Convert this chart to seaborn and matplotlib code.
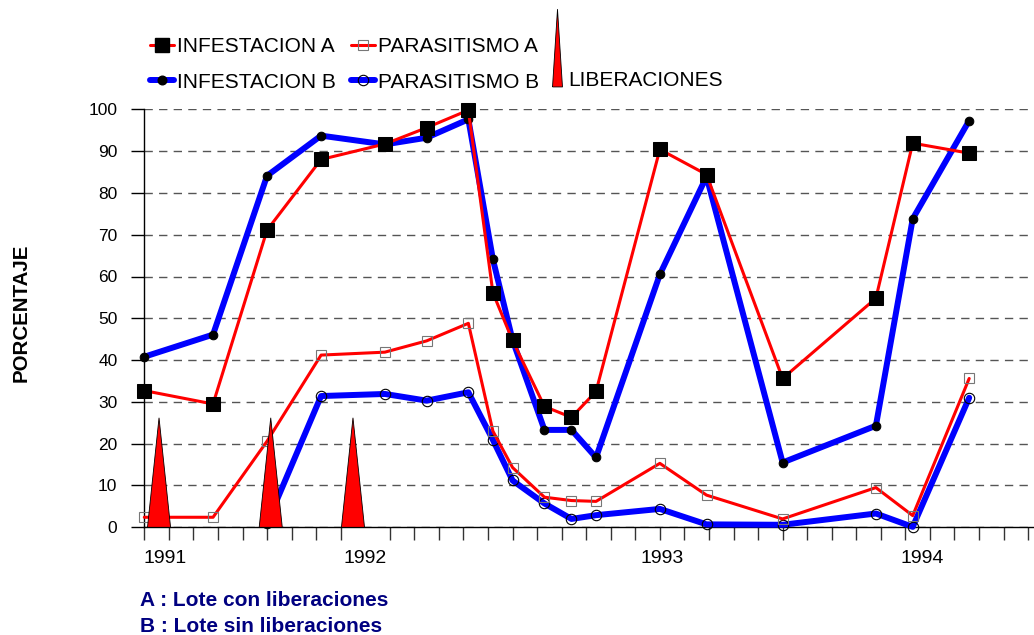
import numpy as np
import pandas as pd
import matplotlib
matplotlib.use('Agg')
import matplotlib.pyplot as plt
import seaborn as sns
from matplotlib.lines import Line2D

# Fechas de muestreo (meses desde enero 1991)
meses = [0, 2.8, 5.0, 7.2, 9.8, 11.5, 13.2, 14.2, 15.0, 16.3, 17.4, 18.4,
         21.0, 22.9, 26.0, 29.8, 31.3, 33.6]

# Lote A (con liberaciones) y lote B (sin liberaciones), en porcentaje
infestacion_a = [32.7, 29.5, 71.1, 88.0, 91.7, 95.6, 99.8, 56.1, 44.7, 28.9,
                 26.3, 32.5, 90.4, 84.4, 35.6, 54.8, 91.9, 89.5]
infestacion_b = [40.8, 46.1, 84.1, 93.7, 91.6, 93.2, 97.6, 64.1, 44.8, 23.3,
                 23.3, 16.7, 60.5, 83.9, 15.5, 24.3, 73.8, 97.3]
parasitismo_a = [2.4, 2.4, 20.6, 41.2, 41.9, 44.6, 48.8, 23.0, 14.3, 7.2,
                 6.4, 6.2, 15.3, 7.7, 2.0, 9.5, 2.8, 35.6]
# el parasitismo B empieza en el tercer muestreo
meses_par_b = meses[2:]
parasitismo_b = [1.0, 31.4, 31.9, 30.3, 32.3, 20.9, 11.2, 5.7, 2.0, 2.9,
                 4.4, 0.7, 0.6, 3.3, 0.1, 31.0]

# Liberaciones de parasitoides
liberaciones_mes = [0.6, 5.15, 8.5]
liberaciones_alto = [26.2, 26.2, 26.2]

anios = ['1991', '1992', '1993', '1994']
anios_pos = [0.85, 9.0, 21.1, 31.7]

ROJO = '#ff0000'
AZUL = '#0000ff'

sns.set_theme(style='white')
plt.rcParams['font.family'] = ['Liberation Sans', 'DejaVu Sans']
plt.rcParams['text.color'] = 'black'
plt.rcParams['xtick.color'] = 'black'
plt.rcParams['ytick.color'] = 'black'

W, H = 1034, 635
fig = plt.figure(figsize=(W / 100, H / 100), dpi=100)
ax = fig.add_axes([144.3 / W, 1 - 527.3 / H, (W - 144.3) / W, (527.3 - 109.3) / H])

# series
sns.lineplot(x=meses_par_b, y=parasitismo_b, ax=ax, color=AZUL, lw=4.3,
             marker='o', ms=7.5, mfc='none', mec='black', mew=0.8,
             clip_on=False, zorder=3)
sns.lineplot(x=meses, y=infestacion_b, ax=ax, color=AZUL, lw=4.3,
             marker='o', ms=6.2, mfc='black', mec='black',
             clip_on=False, zorder=4)
sns.lineplot(x=meses, y=parasitismo_a, ax=ax, color=ROJO, lw=2.2,
             marker='s', ms=7.2, mfc='none', mec='#777777', mew=0.8,
             clip_on=False, zorder=5)
sns.lineplot(x=meses, y=infestacion_a, ax=ax, color=ROJO, lw=2.2,
             marker='s', ms=9.4, mfc='black', mec='black',
             clip_on=False, zorder=6)

# liberaciones como conos rojos
medio_ancho = 0.47
for m, h in zip(liberaciones_mes, liberaciones_alto):
    ax.fill([m - medio_ancho, m, m + medio_ancho], [0, h, 0],
            facecolor=ROJO, edgecolor='black', lw=0.6, zorder=7)

ax.set_xlim(0, 36.24)
ax.set_ylim(0, 100)
for s in ['top', 'right']:
    ax.spines[s].set_visible(False)
for s in ['left', 'bottom']:
    ax.spines[s].set_color('black')
    ax.spines[s].set_linewidth(1.0)

ax.set_yticks(range(0, 101, 10))
ax.tick_params(axis='y', direction='out', length=9.4, width=1.0, pad=9.9,
               labelsize=12.5, color='black', labelcolor='black', left=True)
ax.set_xticks(anios_pos, anios)
ax.set_xticks(np.arange(0, 37), minor=True)
ax.tick_params(axis='x', which='major', length=0, pad=16.4, labelsize=14,
               labelcolor='black')
ax.tick_params(axis='x', which='minor', direction='out', length=9.6,
               width=1.0, color='#333333', bottom=True)

ax.set_axisbelow(True)
ax.yaxis.grid(True, linestyle=(0, (6, 4.5)), color='#555555', lw=1.0)
ax.xaxis.grid(False)
ax.set_xlabel('')
ax.set_ylabel('')

fig.text(21.5 / W, 1 - 312.5 / H, 'PORCENTAJE', rotation=90, fontsize=14.8,
         fontweight='bold', ha='center', va='center')

fig.text(140 / W, 1 - 605.7 / H, 'A : Lote con liberaciones', color='#000080',
         fontsize=15, fontweight='bold', va='baseline')
fig.text(140 / W, 1 - 631.7 / H, 'B : Lote sin liberaciones', color='#000080',
         fontsize=15, fontweight='bold', va='baseline')

# leyenda de las series
h_inf_a = Line2D([0], [0], color=ROJO, lw=2.2, marker='s', ms=9.4,
                 mfc='black', mec='black')
h_inf_b = Line2D([0], [0], color=AZUL, lw=4.3, marker='o', ms=6.2,
                 mfc='black', mec='black')
h_par_a = Line2D([0], [0], color=ROJO, lw=2.2, marker='s', ms=7.2,
                 mfc='none', mec='#777777', mew=0.8)
h_par_b = Line2D([0], [0], color=AZUL, lw=4.3, marker='o', ms=7.5,
                 mfc='none', mec='black', mew=0.8)

fig.legend([h_inf_a, h_inf_b, h_par_a, h_par_b],
           ['INFESTACION A', 'INFESTACION B', 'PARASITISMO A', 'PARASITISMO B'],
           ncol=2, loc='upper left', bbox_to_anchor=(150 / W, 1 - 37.3 / H),
           frameon=False, fontsize=15, handlelength=1.15, handletextpad=0.15,
           columnspacing=0.7, labelspacing=0.79, borderpad=0, borderaxespad=0)

# leyenda de las liberaciones (cono alto)
cono = [(-0.014, -0.106), (0.128, -0.106), (0.057, 1), (-0.014, -0.106)]
h_lib = Line2D([], [], ls='none', marker=cono, ms=101, mfc=ROJO,
               mec='black', mew=0.6)
fig.legend([h_lib], ['LIBERACIONES'], loc='center left',
           bbox_to_anchor=(541 / W, 1 - 80.5 / H), frameon=False, fontsize=15,
           handlelength=1.15, handletextpad=0.15, borderpad=0, borderaxespad=0)

fig.savefig('out.png', dpi=100)
